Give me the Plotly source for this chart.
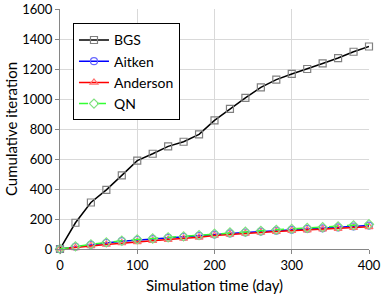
import plotly.graph_objects as go

days = [0, 20, 40, 60, 80, 100, 120, 140, 160, 180, 200, 220, 240, 260, 280, 300, 320, 340, 360, 380, 400]
bgs = [0, 175, 310, 394, 491, 589, 635, 684, 715, 764, 857, 934, 1007, 1078, 1129, 1167, 1200, 1237, 1273, 1315, 1350]
aitken = [0, 15, 28, 40, 52, 60, 66, 74, 80, 88, 96, 104, 110, 116, 122, 128, 134, 138, 144, 150, 156]
anderson = [0, 8, 20, 30, 40, 48, 55, 63, 70, 78, 90, 98, 104, 110, 116, 122, 126, 132, 136, 142, 148]
qn = [0, 18, 31, 44, 55, 64, 70, 78, 84, 92, 102, 110, 115, 121, 128, 134, 140, 145, 151, 158, 165]

FONT = "Lato"

fig = go.Figure()
fig.add_trace(go.Scatter(x=days, y=bgs, name="BGS", mode="lines+markers", cliponaxis=False,
                         line=dict(color="black", width=1.5),
                         marker=dict(symbol="square-open", size=7, color="#808080", line=dict(width=1.2))))
fig.add_trace(go.Scatter(x=days, y=aitken, name="Aitken", mode="lines+markers", cliponaxis=False,
                         line=dict(color="#0000ff", width=1.5),
                         marker=dict(symbol="circle-open", size=7, color="#6666ff", line=dict(width=1.2))))
fig.add_trace(go.Scatter(x=days, y=anderson, name="Anderson", mode="lines+markers", cliponaxis=False,
                         line=dict(color="#ff0000", width=1.5),
                         marker=dict(symbol="triangle-up-open", size=7, color="#ff7070", line=dict(width=1.2))))
fig.add_trace(go.Scatter(x=days, y=qn, name="QN", mode="lines+markers", cliponaxis=False,
                         line=dict(color="#33ff33", width=1.5, dash="dash"),
                         marker=dict(symbol="diamond-open", size=7, color="#80e080", line=dict(width=1.2))))

fig.update_layout(
    width=381, height=298,
    margin=dict(l=60, r=12, t=9, b=49, autoexpand=False),
    paper_bgcolor="white", plot_bgcolor="white",
    font=dict(family=FONT, size=13, color="black"),
    legend=dict(x=0.042, y=0.94, xanchor="left", yanchor="top",
                bordercolor="black", borderwidth=1, bgcolor="white",
                font=dict(family=FONT, size=14)),
    showlegend=True,
)
fig.update_xaxes(range=[0, 400], dtick=100, showgrid=True, gridcolor="#d9d9d9",
                 showline=True, linecolor="#868686", linewidth=1,
                 ticks="outside", ticklen=4, tickcolor="#868686", automargin=False,
                 ticklabeloverflow="allow",
                 zeroline=False, title=dict(text="Simulation time (day)", font=dict(size=15), standoff=8))
fig.update_yaxes(range=[0, 1600], dtick=200, showgrid=True, gridcolor="#d9d9d9",
                 showline=True, linecolor="#868686", linewidth=1,
                 ticks="outside", ticklen=4, tickcolor="#868686", automargin=False,
                 ticklabeloverflow="allow",
                 zeroline=False, title=dict(text="Cumulative iteration", font=dict(size=15), standoff=0))

fig.write_html("out.html", config={"displayModeBar": False},
               post_script="document.body.style.margin='0';document.body.style.overflow='hidden';")
